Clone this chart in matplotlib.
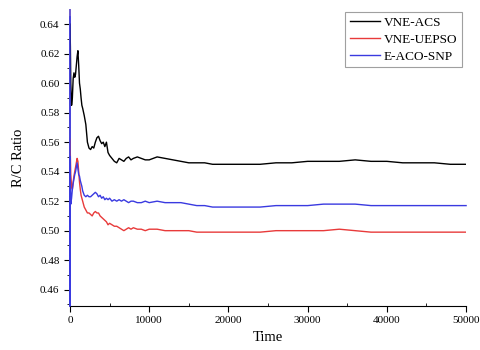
import numpy as np
import matplotlib.pyplot as plt
from matplotlib.ticker import MultipleLocator

plt.rcParams['font.family'] = ['Liberation Serif', 'DejaVu Serif']

time = [0, 0, 0, 50, 100, 200, 300, 400, 500, 600, 700, 800, 900, 1000, 1100, 1200,
        1300, 1400, 1500, 1600, 1800, 2000, 2200, 2400, 2600, 2800, 3000, 3200, 3400,
        3600, 3800, 4000, 4200, 4400, 4600, 4800, 5000, 5300, 5600, 5900, 6200, 6500,
        6800, 7100, 7400, 7700, 8000, 8500, 9000, 9500, 10000, 11000, 12000, 13000,
        14000, 15000, 16000, 17000, 18000, 19000, 20000, 22000, 24000, 26000, 28000,
        30000, 32000, 34000, 36000, 38000, 40000, 42000, 44000, 46000, 48000, 50000]

vne_acs = [0.640, 0.640, 0.640, 0.625, 0.600, 0.585, 0.590, 0.603, 0.607, 0.604, 0.606,
           0.612, 0.618, 0.622, 0.612, 0.600, 0.596, 0.590, 0.585, 0.583, 0.578, 0.572,
           0.560, 0.556, 0.555, 0.557, 0.556, 0.560, 0.563, 0.564, 0.561, 0.559, 0.560,
           0.557, 0.560, 0.553, 0.551, 0.549, 0.547, 0.546, 0.549, 0.548, 0.547, 0.549,
           0.550, 0.548, 0.549, 0.550, 0.549, 0.548, 0.548, 0.550, 0.549, 0.548, 0.547,
           0.546, 0.546, 0.546, 0.545, 0.545, 0.545, 0.545, 0.545, 0.546, 0.546, 0.547,
           0.547, 0.547, 0.548, 0.547, 0.547, 0.546, 0.546, 0.546, 0.545, 0.545]

vne_uepso = [0.562, 0.562, 0.562, 0.550, 0.538, 0.530, 0.528, 0.533, 0.537, 0.540, 0.543,
             0.546, 0.549, 0.547, 0.540, 0.533, 0.528, 0.524, 0.522, 0.520, 0.516, 0.514,
             0.512, 0.512, 0.511, 0.510, 0.512, 0.513, 0.512, 0.512, 0.510, 0.509, 0.508,
             0.507, 0.506, 0.504, 0.505, 0.504, 0.503, 0.503, 0.502, 0.501, 0.500, 0.501,
             0.502, 0.501, 0.502, 0.501, 0.501, 0.500, 0.501, 0.501, 0.500, 0.500, 0.500,
             0.500, 0.499, 0.499, 0.499, 0.499, 0.499, 0.499, 0.499, 0.500, 0.500, 0.500,
             0.500, 0.501, 0.500, 0.499, 0.499, 0.499, 0.499, 0.499, 0.499, 0.499]

e_aco_snp = [0.645, 0.449, 0.550, 0.535, 0.518, 0.522, 0.528, 0.532, 0.535, 0.538, 0.540,
             0.543, 0.546, 0.542, 0.538, 0.537, 0.534, 0.532, 0.530, 0.527, 0.524, 0.523,
             0.524, 0.523, 0.523, 0.524, 0.525, 0.526, 0.525, 0.523, 0.524, 0.522, 0.523,
             0.521, 0.522, 0.521, 0.522, 0.520, 0.521, 0.520, 0.521, 0.520, 0.521, 0.520,
             0.519, 0.520, 0.520, 0.519, 0.519, 0.520, 0.519, 0.520, 0.519, 0.519, 0.519,
             0.518, 0.517, 0.517, 0.516, 0.516, 0.516, 0.516, 0.516, 0.517, 0.517, 0.517,
             0.518, 0.518, 0.518, 0.517, 0.517, 0.517, 0.517, 0.517, 0.517, 0.517]

fig = plt.figure(figsize=(4.81, 3.5), dpi=100)
ax = fig.add_axes([0.1455, 0.126, 0.8235, 0.845])

ax.plot(time, vne_acs, color='black', lw=1.0, label='VNE-ACS', zorder=3)
ax.plot(time, vne_uepso, color='#e83a3a', lw=1.0, label='VNE-UEPSO', zorder=3)
ax.plot(time, e_aco_snp, color='#3a3ae0', lw=1.0, label='E-ACO-SNP', zorder=3,
        clip_on=False)

ax.set_xlim(0, 50000)
ax.set_ylim(0.449, 0.6495)
ax.xaxis.set_major_locator(MultipleLocator(10000))
ax.xaxis.set_minor_locator(MultipleLocator(5000))
yt = np.arange(0.46, 0.641, 0.02)
ax.set_yticks(yt)
ax.set_yticklabels([f'{v:.2f}' for v in yt])
ax.yaxis.set_minor_locator(MultipleLocator(0.01))
ax.tick_params(which='both', direction='out', labelsize=8)
ax.tick_params(which='major', length=4)
ax.tick_params(which='minor', length=2.5)
ax.tick_params(axis='x', which='minor', direction='in')
ax.spines['top'].set_visible(False)
ax.spines['right'].set_visible(False)
ax.spines['left'].set_color('#6a5acd')
ax.spines['left'].set_linewidth(1.4)

ax.set_xlabel('Time', fontsize=10.5)
ax.set_ylabel('R/C Ratio', fontsize=10.5, labelpad=11)

leg = ax.legend(loc='upper right', bbox_to_anchor=(462 / 481, 1 - 12 / 350),
                bbox_transform=fig.transFigure, fontsize=9.5, frameon=True,
                fancybox=False, handlelength=2.3, borderpad=0.35, labelspacing=0.35,
                handletextpad=0.3, borderaxespad=0)
leg.get_frame().set_edgecolor('#888888')
leg.get_frame().set_linewidth(0.8)

fig.savefig('out.png', dpi=100)
